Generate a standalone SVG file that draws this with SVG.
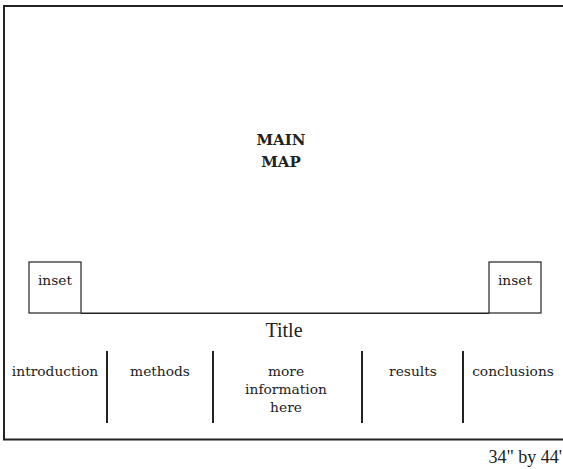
<svg xmlns="http://www.w3.org/2000/svg" width="563" height="469" viewBox="0 0 563 469">
<style>
text{fill:#222;text-anchor:middle}
.s{font-family:"DejaVu Serif","Liberation Serif",serif;font-size:13.8px}
.b{font-family:"DejaVu Serif","Liberation Serif",serif;font-size:15px;font-weight:bold}
.t{font-family:"Liberation Serif","DejaVu Serif",serif;font-size:20px}
.line{stroke:#222;fill:none}
</style>
<rect width="563" height="469" fill="#fff"/>
<g id="frame"><rect x="4" y="6" width="570" height="433.5" class="line" stroke-width="2"/></g>
<g id="main-map"><text class="b" x="281" y="145">MAIN</text><text class="b" x="281" y="167">MAP</text></g>
<g id="inset-left"><rect x="29" y="262" width="52" height="51" class="line" stroke-width="1.2"/><text class="s" x="55" y="285">inset</text></g>
<g id="inset-right"><rect x="489" y="262" width="52" height="51" class="line" stroke-width="1.2"/><text class="s" x="515" y="285">inset</text></g>
<g id="connectors">
<line x1="81" y1="313.3" x2="489" y2="313.3" class="line" stroke-width="1.6"/>
<line x1="107" y1="351" x2="107" y2="423" class="line" stroke-width="2"/>
<line x1="213" y1="351" x2="213" y2="423" class="line" stroke-width="2"/>
<line x1="362" y1="351" x2="362" y2="423" class="line" stroke-width="2"/>
<line x1="463" y1="351" x2="463" y2="423" class="line" stroke-width="2"/>
</g>
<g id="title"><text class="t" x="284" y="337">Title</text></g>
<g id="introduction"><text class="s" x="55" y="376">introduction</text></g>
<g id="methods"><text class="s" x="160" y="376">methods</text></g>
<g id="more-info"><text class="s" x="286" y="376">more</text><text class="s" x="286" y="394">information</text><text class="s" x="286" y="412">here</text></g>
<g id="results"><text class="s" x="413" y="376">results</text></g>
<g id="conclusions"><text class="s" x="513" y="376">conclusions</text></g>
<g id="size"><text class="t" x="562" y="463" style="font-size:18px;text-anchor:end">34" by 44'</text></g>
</svg>
